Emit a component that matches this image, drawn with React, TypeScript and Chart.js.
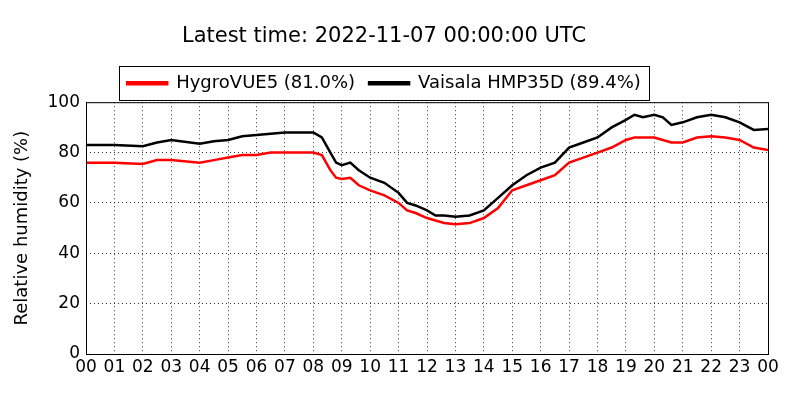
import React, { useEffect, useRef } from "react";
import { Chart, registerables } from "chart.js";
Chart.register(...registerables);

const hours = [0, 1, 2, 2.5, 3, 4, 4.5, 5, 5.5, 6, 6.5, 7, 7.5, 8, 8.3, 8.6, 8.8, 9, 9.3, 9.6, 10, 10.5, 11, 11.3, 11.6, 12, 12.3, 12.6, 13, 13.5, 14, 14.5, 15, 15.5, 16, 16.5, 17, 17.5, 18, 18.5, 19, 19.3, 19.6, 20, 20.3, 20.6, 21, 21.5, 22, 22.5, 23, 23.5, 24];
const vaisala = [83, 83, 82.5, 84, 85, 83.5, 84.5, 85, 86.5, 87, 87.5, 88, 88, 88, 86, 80, 76, 75, 76, 73, 70, 68, 64, 60, 59, 57, 55, 55, 54.5, 55, 57, 62, 67, 71, 74, 76, 82, 84, 86, 90, 93, 95, 94, 95, 94, 91, 92, 94, 95, 94, 92, 89, 89.4];
const hygro = [76, 76, 75.5, 77, 77, 76, 77, 78, 79, 79, 80, 80, 80, 80, 79, 73, 70, 69.5, 70, 67, 65, 63, 60, 57, 56, 54, 53, 52, 51.5, 52, 54, 58, 65, 67, 69, 71, 76, 78, 80, 82, 85, 86, 86, 86, 85, 84, 84, 86, 86.5, 86, 85, 82, 81];
const xTicks = Array.from({ length: 25 }, (_, i) => i);

const FONT = "'DejaVu Sans', sans-serif";

export default function App() {
  const ref = useRef<HTMLCanvasElement>(null);
  useEffect(() => {
    document.body.style.margin = "0";
    const frame = {
      id: "frame",
      afterDraw(c: any) {
        const ctx = c.ctx;
        const a = c.chartArea;
        ctx.save();
        ctx.strokeStyle = "#000";
        ctx.lineWidth = 1;
        ctx.strokeRect(a.left + 0.5, a.top + 0.5, a.right - a.left, a.bottom - a.top);
        const hb = c.legend.legendHitBoxes || [];
        if (hb.length) {
          const left = Math.min(...hb.map((b: any) => b.left)) - 8;
          const right = Math.max(...hb.map((b: any) => b.left + b.width)) + 8;
          const top = hb[0].top - 8;
          const h = hb[0].height + 16;
          ctx.strokeRect(Math.round(left) + 0.5, Math.round(top) + 0.5, Math.round(right - left), Math.round(h));
        }
        ctx.restore();
      },
    };
    const chart = new Chart(ref.current!, {
      type: "line",
      data: {
        datasets: [
          { label: "HygroVUE5 (81.0%)", data: hours.map((h, i) => ({ x: h, y: hygro[i] })), borderColor: "#ff0000", backgroundColor: "#ff0000", borderWidth: 2.5, pointRadius: 0 },
          { label: "Vaisala HMP35D (89.4%)", data: hours.map((h, i) => ({ x: h, y: vaisala[i] })), borderColor: "#000", backgroundColor: "#000", borderWidth: 2.5, pointRadius: 0 },
        ],
      },
      options: {
        animation: false,
        responsive: false,
        layout: { padding: { right: 32, top: 8 } },
        plugins: {
          title: { display: true, text: "Latest time: 2022-11-07 00:00:00 UTC", color: "#000", font: { family: FONT, size: 21, weight: "normal" }, padding: { top: 16, bottom: 11 } },
          legend: {
            labels: { color: "#000", font: { family: FONT, size: 18 }, boxWidth: 40, boxHeight: 2, padding: 14 },
          },
          tooltip: { enabled: false },
        },
        scales: {
          x: {
            type: "linear", min: 0, max: 24,
            afterBuildTicks: (s: any) => { s.ticks = xTicks.map((v) => ({ value: v })); },
            afterFit: (s: any) => { s.height = 46; },
            ticks: { color: "#000", font: { family: FONT, size: 17 }, maxRotation: 0, autoSkip: false, callback: (v: any) => String(Number(v) % 24).padStart(2, "0") },
            grid: { color: "#000", drawTicks: false, lineWidth: 0.8 },
            border: { dash: [1, 3], display: false },
          },
          y: {
            min: 0, max: 100,
            afterFit: (s: any) => { s.width = 86; },
            ticks: { stepSize: 20, color: "#000", font: { family: FONT, size: 17 }, padding: 6 },
            title: { display: true, text: "Relative humidity (%)", color: "#000", font: { family: FONT, size: 18 }, padding: { top: 12, bottom: 0 } },
            grid: { color: "#000", drawTicks: false, lineWidth: 0.8 },
            border: { dash: [1, 3], display: false },
          },
        },
      },
      plugins: [frame],
    });
    return () => chart.destroy();
  }, []);
  return <canvas ref={ref} width={800} height={400} />;
}
